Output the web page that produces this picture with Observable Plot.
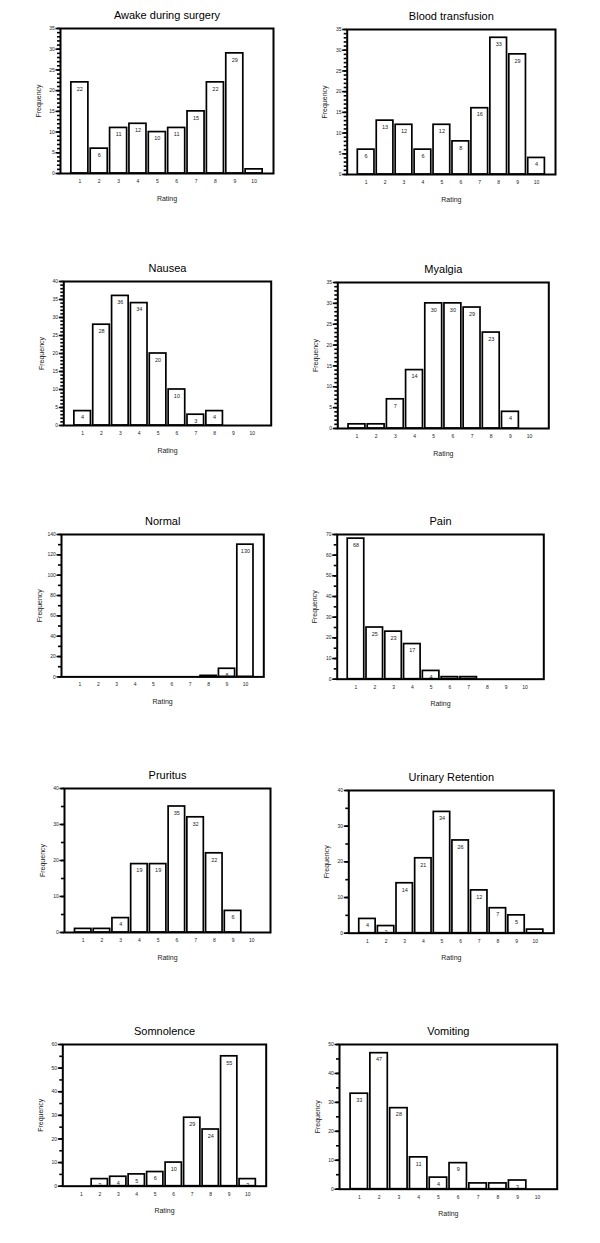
<!DOCTYPE html>
<html><head><meta charset="utf-8">
<script src="https://cdn.jsdelivr.net/npm/d3@7"></script>
<script src="https://cdn.jsdelivr.net/npm/@observablehq/plot@0.6"></script>
<style>
body{margin:0;background:#fff;}
#root{position:relative;width:600px;height:1243px;background:#fff;overflow:hidden;}
#root svg{position:absolute;}
</style></head><body><div id="root"></div>
<script>
const ratings = [1, 2, 3, 4, 5, 6, 7, 8, 9, 10];
const titles = ["Awake during surgery", "Blood transfusion", "Nausea", "Myalgia", "Normal",
  "Pain", "Pruritus", "Urinary Retention", "Somnolence", "Vomiting"];
const awake      = [22, 6, 11, 12, 10, 11, 15, 22, 29, 1];
const blood      = [6, 13, 12, 6, 12, 8, 16, 33, 29, 4];
const nausea     = [4, 28, 36, 34, 20, 10, 3, 4, 0, 0];
const myalgia    = [1, 1, 7, 14, 30, 30, 29, 23, 4, 0];
const normal     = [0, 0, 0, 0, 0, 0, 0, 1, 8, 130];
const pain       = [68, 25, 23, 17, 4, 1, 1, 0, 0, 0];
const pruritus   = [1, 1, 4, 19, 19, 35, 32, 22, 6, 0];
const urinary    = [4, 2, 14, 21, 34, 26, 12, 7, 5, 1];
const somnolence = [0, 3, 4, 5, 6, 10, 29, 24, 55, 3];
const vomiting   = [33, 47, 28, 11, 4, 9, 2, 2, 3, 0];
const series = [awake, blood, nausea, myalgia, normal, pain, pruritus, urinary, somnolence, vomiting];
const yMax   = [35, 35, 40, 35, 140, 70, 40, 40, 60, 50];
const yMajor = [5, 5, 5, 5, 20, 10, 10, 10, 10, 10];
const yMinor = [1, 1, 1, 1, 10, 5, 5, 5, 5, 5];
const labelMin = [2, 2, 2, 2, 2, 2, 2, 2, 2, 3];

// layout (frame positions in page pixels)
const layout = [
  {col: 0, L: 60,    R: 273,   T: 28,    B: 173},
  {col: 1, L: 346.7, R: 555,   T: 29,    B: 174},
  {col: 0, L: 63.3,  R: 270.7, T: 281,   B: 425},
  {col: 1, L: 337.3, R: 548.3, T: 281.7, B: 427.7},
  {col: 0, L: 61,    R: 263.3, T: 534.3, B: 676.7},
  {col: 1, L: 336.7, R: 543.3, T: 534.3, B: 679},
  {col: 0, L: 64,    R: 270,   T: 788.3, B: 932.3},
  {col: 1, L: 348.3, R: 553.3, T: 790,   B: 932.7},
  {col: 0, L: 62.3,  R: 265.7, T: 1044,  B: 1185.7},
  {col: 1, L: 339,   R: 556.7, T: 1044.3,B: 1189}
];

const root = document.getElementById("root");
const font = "'Liberation Sans', Arial, Helvetica, sans-serif";

layout.forEach((f, i) => {
  const colX = f.col * 300;
  const mt = 32, mb = 40;
  const data = ratings.map((r, j) => ({r, v: series[i][j]}));
  const plot = Plot.plot({
    width: 300,
    height: (f.B - f.T) + mt + mb,
    marginLeft: f.L - colX,
    marginRight: colX + 300 - f.R,
    marginTop: mt,
    marginBottom: mb,
    x: {domain: [0, 11]},
    y: {domain: [0, yMax[i]]},
    style: {fontFamily: font, color: "black", background: "transparent", overflow: "visible"},
    marks: [
      Plot.rectY(data.filter(d => d.v > 0), {
        x1: d => d.r - 0.44, x2: d => d.r + 0.44, y: "v",
        fill: "white", stroke: "black", strokeWidth: 1.7
      }),
      Plot.text(data.filter(d => d.v >= labelMin[i]), {
        x: "r", y: "v", text: d => String(d.v), dy: 6.5, fontSize: 5.5, fill: "#222"
      }),
      Plot.frame({stroke: "black", strokeWidth: 2}),
      Plot.axisX(ratings, {tickSize: 0, tickPadding: 6, fontSize: 5, label: null, fill: "#222"}),
      Plot.axisY(d3.range(0, yMax[i] + 1e-9, yMinor[i]), {
        tickSize: 3, tickFormat: () => "", label: null, strokeWidth: 1.6, stroke: "black"
      }),
      Plot.axisY(d3.range(0, yMax[i] + 1e-9, yMajor[i]), {
        tickSize: 4.5, tickPadding: 1.2, fontSize: 5, label: null, strokeWidth: 1.6, stroke: "black", fill: "#222"
      }),
      Plot.text([titles[i]], {frameAnchor: "top", dy: -13, fontSize: 11, lineAnchor: "middle", textAnchor: "middle"}),
      Plot.text(["Rating"], {frameAnchor: "bottom", dy: 25, fontSize: 7, lineAnchor: "middle", textAnchor: "middle", fill: "#222"}),
      Plot.text(["Frequency"], {frameAnchor: "left", dx: -22, rotate: -90, fontSize: 7, lineAnchor: "middle", textAnchor: "middle", fill: "#222"})
    ]
  });
  plot.style.left = colX + "px";
  plot.style.top = (f.T - mt) + "px";
  root.appendChild(plot);
});
</script></body></html>
